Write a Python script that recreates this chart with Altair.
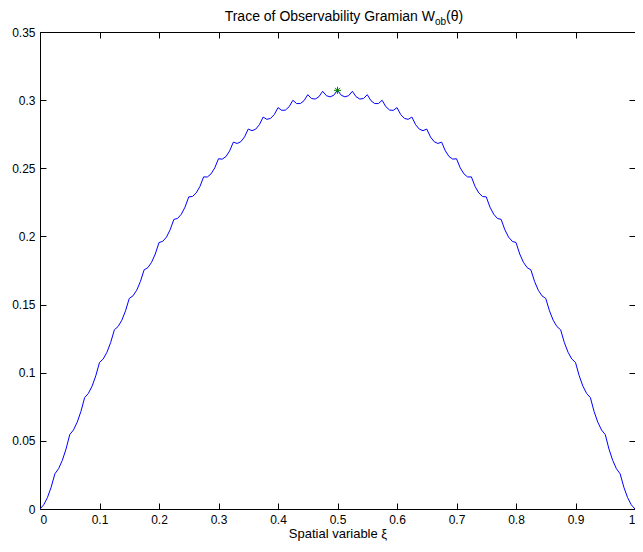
import altair as alt
import pandas as pd

# x ticks / y ticks
x_ticks = [0, 0.1, 0.2, 0.3, 0.4, 0.5, 0.6, 0.7, 0.8, 0.9, 1]
y_ticks = [0, 0.05, 0.1, 0.15, 0.2, 0.25, 0.3, 0.35]

# curve: cusp values every 0.025 in xi
cusp_y = [0.0, 0.0258, 0.0546, 0.0817, 0.1075, 0.1315, 0.1545, 0.1755, 0.1955, 0.2125,
          0.2290, 0.2437, 0.2570, 0.2692, 0.2788, 0.2876, 0.2945, 0.2999, 0.3040, 0.3065,
          0.3072,
          0.3065, 0.3040, 0.2999, 0.2945, 0.2876, 0.2788, 0.2692, 0.2570, 0.2437, 0.2290,
          0.2125, 0.1955, 0.1755, 0.1545, 0.1315, 0.1075, 0.0817, 0.0546, 0.0258, 0.0]
# values read at 1/4, 1/2, 3/4 of each interval between cusps
quarter_y = [0.0031, 0.0296, 0.0580, 0.0848, 0.1101, 0.1339, 0.1564, 0.1771, 0.1964, 0.2132,
             0.2293, 0.2436, 0.2567, 0.2682, 0.2776, 0.2859, 0.2925, 0.2975, 0.3012, 0.3033,
             0.3036, 0.3025, 0.2996, 0.2952, 0.2894, 0.2820, 0.2730, 0.2628, 0.2503, 0.2366,
             0.2215, 0.2049, 0.1871, 0.1669, 0.1454, 0.1221, 0.0977, 0.0715, 0.0440, 0.0160]
mid_y = [0.0084, 0.0357, 0.0637, 0.0901, 0.1150, 0.1385, 0.1605, 0.1810, 0.1995, 0.2163,
         0.2319, 0.2459, 0.2586, 0.2695, 0.2787, 0.2866, 0.2927, 0.2975, 0.3008, 0.3024,
         0.3024, 0.3008, 0.2975, 0.2927, 0.2866, 0.2787, 0.2695, 0.2586, 0.2459, 0.2319,
         0.2163, 0.1995, 0.1810, 0.1605, 0.1385, 0.1150, 0.0901, 0.0637, 0.0357, 0.0084]
three_quarter_y = [0.0160, 0.0440, 0.0715, 0.0977, 0.1221, 0.1454, 0.1669, 0.1871, 0.2049, 0.2215,
                   0.2366, 0.2503, 0.2628, 0.2730, 0.2820, 0.2894, 0.2952, 0.2996, 0.3025, 0.3036,
                   0.3033, 0.3012, 0.2975, 0.2925, 0.2859, 0.2776, 0.2682, 0.2567, 0.2436, 0.2293,
                   0.2132, 0.1964, 0.1771, 0.1564, 0.1339, 0.1101, 0.0848, 0.0580, 0.0296, 0.0031]

peak_x = [0.5]
peak_y = [0.3072]

xs, ys = [], []
n_seg = len(cusp_y) - 1
for i in range(n_seg):
    for k, v in enumerate([cusp_y[i], quarter_y[i], mid_y[i], three_quarter_y[i]]):
        xs.append((4 * i + k) / (4 * n_seg))
        ys.append(v)
xs.append(1.0)
ys.append(cusp_y[-1])

curve = pd.DataFrame({"xi": xs, "tr": ys})
peak = pd.DataFrame({"xi": peak_x, "tr": peak_y})

FONT = "Liberation Sans"
FS = 12
TFS = 14
W, H = 595, 477
xscale = alt.Scale(domain=[0, 1], nice=False, zero=False)
yscale = alt.Scale(domain=[0, 0.35], nice=False)

line = alt.Chart(curve).mark_line(color="#0000ff", strokeWidth=1, clip=True).encode(
    x=alt.X("xi:Q", scale=xscale,
            axis=alt.Axis(orient="bottom", values=x_ticks, format="~g", offset=-6, tickSize=6,
                          domain=False, grid=False, labelPadding=5, title="Spatial variable ξ",
                          titlePadding=2, titleFontSize=13)),
    y=alt.Y("tr:Q", scale=yscale,
            axis=alt.Axis(orient="left", values=y_ticks, format="~g", offset=-6, tickSize=6,
                          domain=False, grid=False, labelPadding=5, title=None)),
)

star = alt.Chart(peak).mark_point(
    shape="M-1,0L1,0M0,-1L0,1M-0.7,-0.7L0.7,0.7M-0.7,0.7L0.7,-0.7",
    filled=False, color="#008000", strokeWidth=1, size=50, opacity=1,
).encode(
    x=alt.X("xi:Q", scale=xscale,
            axis=alt.Axis(orient="top", values=x_ticks, offset=-6, tickSize=6, domain=False,
                          grid=False, labels=False, title=None)),
    y=alt.Y("tr:Q", scale=yscale,
            axis=alt.Axis(orient="right", values=y_ticks, offset=-6, tickSize=6, domain=False,
                          grid=False, labels=False, title=None)),
)

one = pd.DataFrame({"a": [0]})
t_main = alt.Chart(one).mark_text(text="Trace of Observability Gramian W", align="right",
                                  baseline="alphabetic", font=FONT, fontSize=TFS, color="black").encode(
    x=alt.value(395), y=alt.value(-11))
t_sub = alt.Chart(one).mark_text(text="ob", align="left", baseline="alphabetic", font=FONT,
                                 fontSize=10, color="black").encode(x=alt.value(395), y=alt.value(-7))
t_end = alt.Chart(one).mark_text(text="(θ)", align="left", baseline="alphabetic", font=FONT,
                                 fontSize=TFS, color="black").encode(x=alt.value(406), y=alt.value(-11))

chart = alt.layer(line, star, t_main, t_sub, t_end).resolve_axis(
    x="independent", y="independent"
).properties(
    width=W, height=H,
    autosize=alt.AutoSizeParams(type="none"),
    padding={"left": 32, "top": 24, "right": 0, "bottom": 35},
).configure_view(
    stroke="black", strokeWidth=1
).configure_axis(
    labelFont=FONT, labelFontSize=FS, labelColor="black", tickColor="black", tickWidth=1,
    titleFont=FONT, titleFontSize=FS, titleFontWeight="normal", titleColor="black",
)

chart.save("out.html", embed_options={"renderer": "svg", "actions": False})
